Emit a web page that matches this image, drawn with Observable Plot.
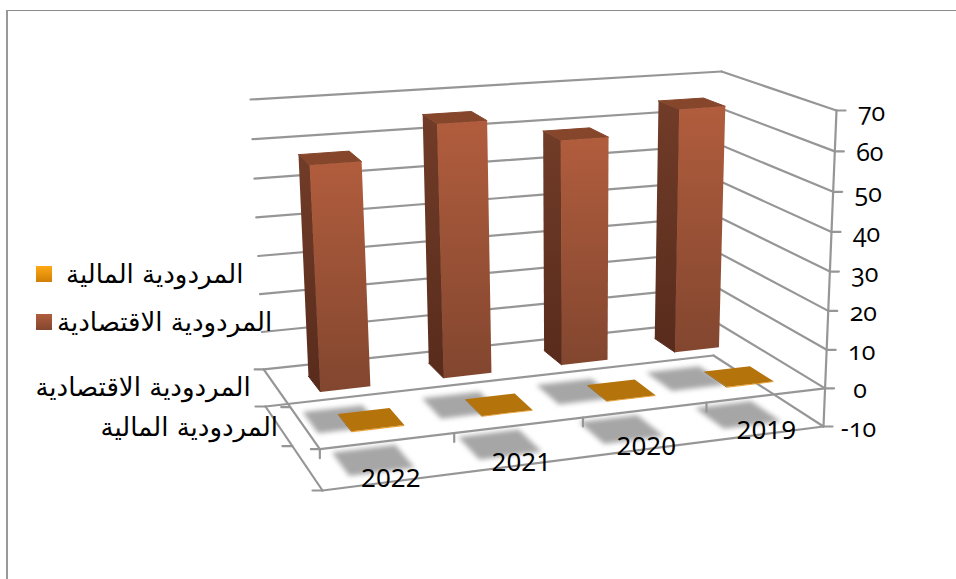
<!DOCTYPE html>
<html lang="ar">
<head>
<meta charset="utf-8">
<script src="https://cdn.jsdelivr.net/npm/d3@7"></script>
<script src="https://cdn.jsdelivr.net/npm/@observablehq/plot@0.6"></script>
<style>
  html, body { margin: 0; padding: 0; background: #fff; overflow: hidden; }
  #stage { position: relative; width: 956px; height: 579px; }
  #frame { position: absolute; left: 6px; top: 10px; right: 0; bottom: 0;
           border-left: 2px solid #999; border-top: 1px solid #8c8c8c; pointer-events: none; }
  .key { position: absolute; display: flex; align-items: center; height: 32px; line-height: 32px;
         font: 26px/32px "DejaVu Sans", sans-serif; color: #000; direction: ltr; white-space: nowrap; }
  .key i { display: block; width: 16px; height: 16px; }
  .onum, .onum text { font-feature-settings: "onum" 1; font-variant-numeric: oldstyle-nums; }
</style>
</head>
<body>
<div id="stage"><div id="frame"></div></div>
<script>
// Chart values
const years = ["2022", "2021", "2020", "2019"];
const seriesNames = ["المردودية الاقتصادية", "المردودية المالية"];
const economicReturn = [57.3, 65.3, 59, 64.9];
const financialReturn = [0.2, 0.2, 0.2, 0.2];
const valueTicks = [-10, 0, 10, 20, 30, 40, 50, 60, 70];

// Perspective box: the eight corners of the plot cube on the page
const corners = {
  backLeftTop: [250, 99], backRightTop: [721, 71],
  frontLeftTop: [300, 148], frontRightTop: [836, 110],
  backLeftBase: [265, 406], backRightBase: [713, 355],
  frontLeftBase: [322, 490], frontRightBase: [823, 426]
};
const foreshorten = (t, k) => t / (t + k * (1 - t));
const mix = (a, b, t) => [a[0] + (b[0] - a[0]) * t, a[1] + (b[1] - a[1]) * t];

// across: 0..1 along the categories, depth: 0 (back) .. 1 (front), value on the vertical axis
function project(across, depth, value) {
  const u = foreshorten(across, 0.92);
  const d = foreshorten(depth, 1.116);
  const v = foreshorten((value + 10) / 80, 1.04);
  const c = corners;
  const base = mix(mix(c.backLeftBase, c.backRightBase, u), mix(c.frontLeftBase, c.frontRightBase, u), d);
  const top = mix(mix(c.backLeftTop, c.backRightTop, u), mix(c.frontLeftTop, c.frontRightTop, u), d);
  return mix(base, top, v);
}

const polygon = (id, pts) => pts.map(([x, y]) => ({id, x, y}));
const segment = (id, a, b) => polygon(id, [a, b]);
const nudge = ([x, y], dx, dy) => [x + dx, y + dy];

// Column footprint: bars fill 40% of a category and of a series row
const barSpan = i => [(i + 0.3) / years.length, (i + 0.7) / years.length];
const rowSpan = r => [r * 0.5 + 0.15, r * 0.5 + 0.36];

function columnFaces(values, row) {
  const front = [], side = [], top = [], shadow = [];
  const [d0, d1] = rowSpan(row);
  values.forEach((value, i) => {
    const [u0, u1] = barSpan(i);
    front.push(...polygon(`f${row}${i}`, [project(u0, d1, value), project(u1, d1, value), project(u1, d1, 0), project(u0, d1, 0)]));
    side.push(...polygon(`s${row}${i}`, [project(u0, d0, value), project(u0, d1, value), project(u0, d1, 0), project(u0, d0, 0)]));
    top.push(...polygon(`t${row}${i}`, [project(u0, d0, value), project(u1, d0, value), project(u1, d1, value), project(u0, d1, value)]));
    // Soft floor shadow spreads a little beyond the column footprint
    const sx = 0.012, sd = 0.03;
    shadow.push(...polygon(`g${row}${i}`, [project(u0 - sx, d0 - sd, -10), project(u1 + sx, d0 - sd, -10), project(u1 + sx, d1 + sd, -10), project(u0 - sx, d1 + sd, -10)]));
  });
  return {front, side, top, shadow};
}

const econ = columnFaces(economicReturn, 0);
const fin = columnFaces(financialReturn, 1);

// Walls, floor and axis lines
const grid = [];
valueTicks.forEach(v => {
  grid.push(...segment(`b${v}`, project(0, 0, v), project(1, 0, v)));
  grid.push(...segment(`r${v}`, project(1, 0, v), project(1, 1, v)));
  grid.push(...segment(`k${v}`, project(1, 1, v), nudge(project(1, 1, v), 9, 0)));
});
grid.push(...segment("axisV", project(1, 1, 70), project(1, 1, -10)));
grid.push(...segment("floorL", project(0, 0, -10), project(0, 1, -10)));
grid.push(...segment("floorF", project(0, 1, -10), project(1, 1, -10)));
grid.push(...segment("zeroL", project(0, 0, 0), project(0, 1, 0)));
grid.push(...segment("zeroF", project(0, 1, 0), project(1, 1, 0)));
[0, 0.25, 0.5, 0.75].forEach(a => {
  grid.push(...segment(`c${a}`, project(a, 1, 0), nudge(project(a, 1, 0), 0, 9)));
});
[0, 0.5, 1].forEach(d => {
  grid.push(...segment(`d0${d}`, project(0, d, 0), nudge(project(0, d, 0), -9, 0)));
  grid.push(...segment(`d1${d}`, project(0, d, -10), nudge(project(0, d, -10), -10, 0)));
});

// Labels placed relative to the projected axes
const valueLabels = valueTicks.map(v => {
  const [x, y] = project(1, 1, v);
  return {x: x + 35, y: y + 2, text: String(v)};
});
const yearLabels = years.map((text, i) => {
  const [x, y] = project((i + 0.5) / years.length, 1, -10);
  return {x: x + 1, y: y - 3, text};
});
const rowLabels = seriesNames.map((text, r) => {
  const [x, y] = project(0, (r + 0.5) / seriesNames.length, -10);
  return {x: x - (r ? 29 : 28), y: y - (r ? 40 : 38), text};
});

const gradient = (id, a, b) =>
  `<linearGradient id="${id}" x1="0" y1="0" x2="0" y2="1"><stop offset="0" stop-color="${a}"/><stop offset="1" stop-color="${b}"/></linearGradient>`;

const chart = Plot.plot({
  width: 956, height: 579,
  marginTop: 0, marginRight: 0, marginBottom: 0, marginLeft: 0,
  x: {domain: [0, 956], range: [0, 956], axis: null},
  y: {domain: [0, 579], range: [0, 579], axis: null},
  style: {background: "transparent", position: "absolute", left: 0, top: 0},
  marks: [
    () => {
      const defs = document.createElementNS("http://www.w3.org/2000/svg", "defs");
      defs.innerHTML = gradient("econFront", "#b15d3d", "#82462f") + gradient("econSide", "#713c28", "#582b1c");
      return defs;
    },
    Plot.line([...econ.shadow, ...fin.shadow], {x: "x", y: "y", z: "id", fill: "#a6a6a6", stroke: "none", imageFilter: "blur(2.5px)"}),
    Plot.line(grid, {x: "x", y: "y", z: "id", stroke: "#969696", strokeWidth: 2.2}),
    Plot.line(fin.side, {x: "x", y: "y", z: "id", fill: "#8a5708", stroke: "none"}),
    Plot.line(fin.front, {x: "x", y: "y", z: "id", fill: "#f09a1c", stroke: "none"}),
    Plot.line(fin.top, {x: "x", y: "y", z: "id", fill: "#b5730b", stroke: "none"}),
    Plot.line(econ.side, {x: "x", y: "y", z: "id", fill: "url(#econSide)", stroke: "url(#econSide)", strokeWidth: 1}),
    Plot.line(econ.top, {x: "x", y: "y", z: "id", fill: "#85462c", stroke: "#85462c", strokeWidth: 1}),
    Plot.line(econ.front, {x: "x", y: "y", z: "id", fill: "url(#econFront)", stroke: "none"}),
    Plot.text(valueLabels, {x: "x", y: "y", text: "text", fontSize: 25, fontFamily: "'Open Sans', Lato, sans-serif", fill: "#000", className: "onum"}),
    Plot.text(yearLabels, {x: "x", y: "y", text: "text", fontSize: 26, fontFamily: "'Noto Sans', sans-serif", fill: "#000"}),
    Plot.text(rowLabels, {x: "x", y: "y", text: "text", fontSize: 26, fontFamily: "'DejaVu Sans', sans-serif", textAnchor: "end", fill: "#000"})
  ]
});
const stage = document.getElementById("stage");
stage.prepend(chart);

// Series key, financial return first
const keyItems = [
  {name: seriesNames[1], left: 36, top: 258, gap: 14, swatch: "linear-gradient(#ffa914, #d07f05)"},
  {name: seriesNames[0], left: 36, top: 306, gap: 5, swatch: "linear-gradient(#b15d3d, #82462f)"}
];
keyItems.forEach(item => {
  const row = document.createElement("div");
  row.className = "key";
  row.style.left = item.left + "px";
  row.style.top = item.top + "px";
  row.style.gap = item.gap + "px";
  const swatch = document.createElement("i");
  swatch.style.background = item.swatch;
  const label = document.createElement("span");
  label.textContent = item.name;
  row.append(swatch, label);
  stage.append(row);
});
</script>
</body>
</html>
